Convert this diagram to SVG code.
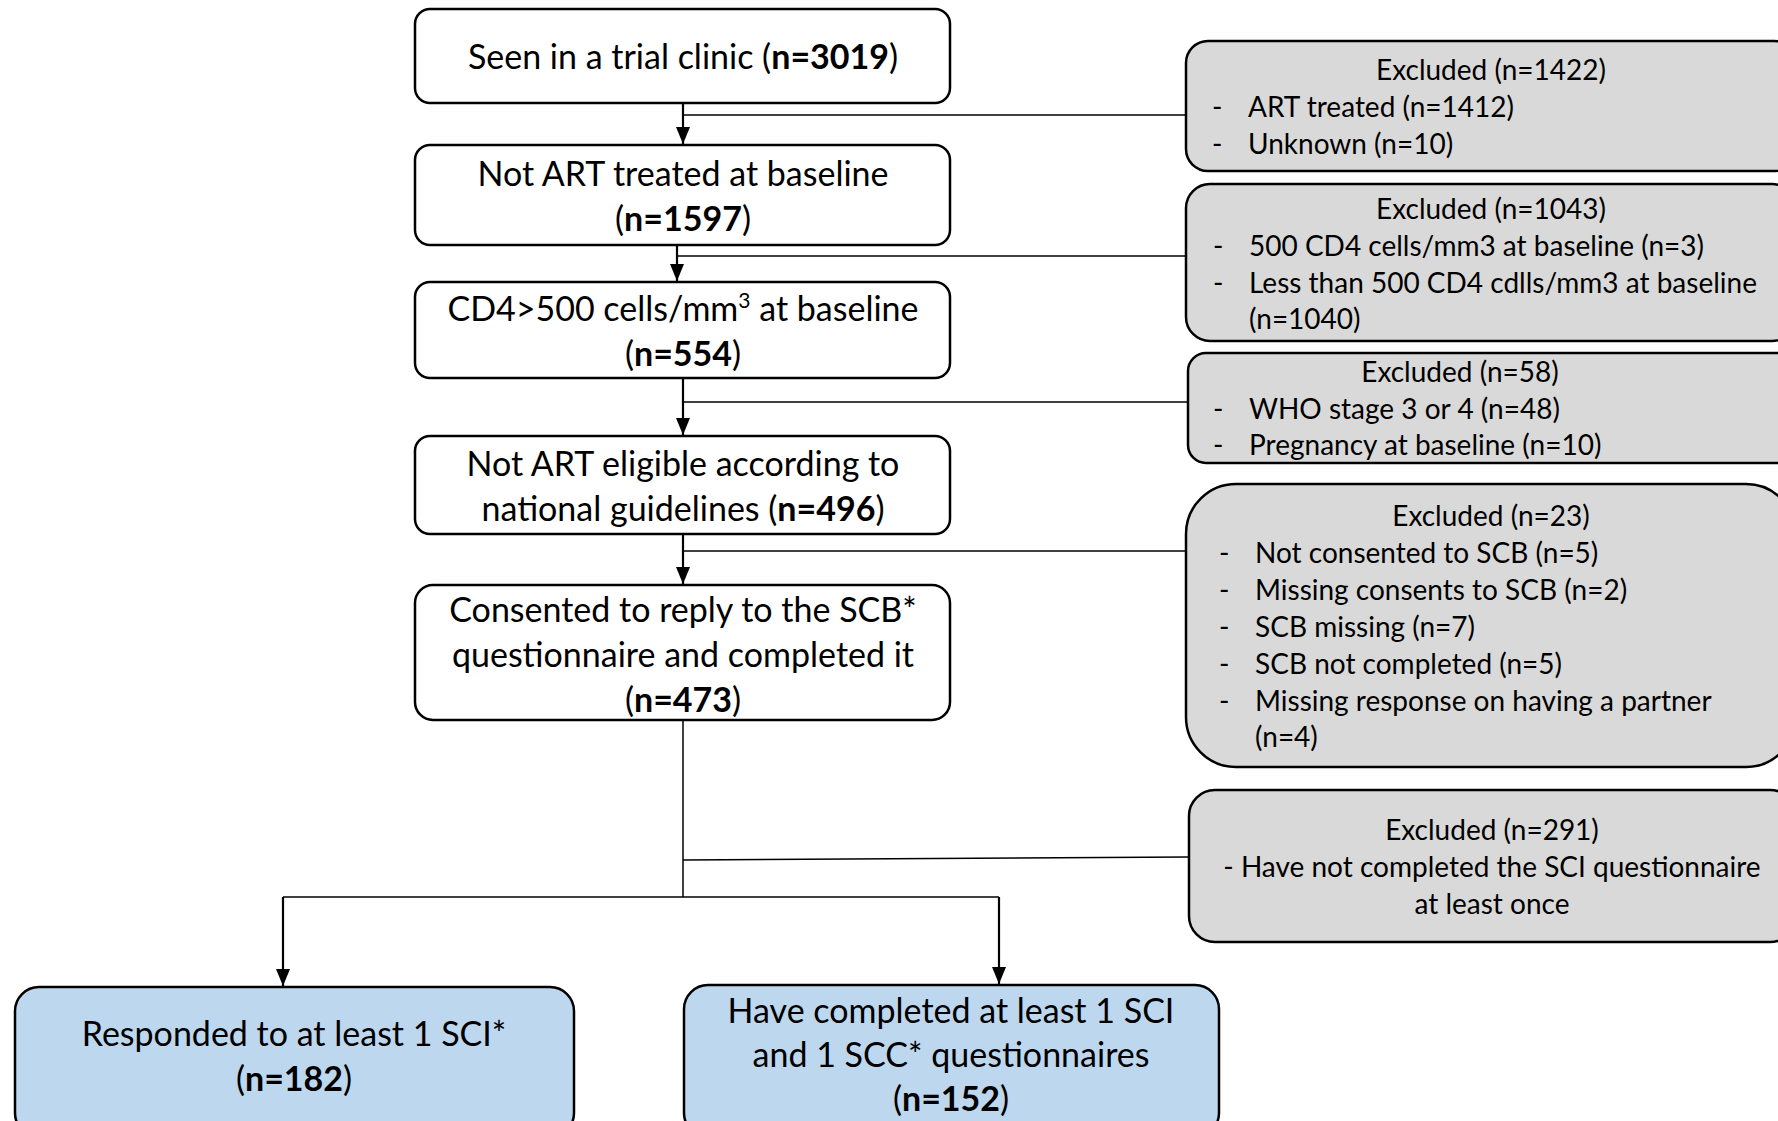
<svg xmlns="http://www.w3.org/2000/svg" width="1778" height="1121" viewBox="0 0 1778 1121">
<defs>
<style>
.box{fill:#fff;stroke:#000;stroke-width:2.5}
.gray{fill:#d9d9d9;stroke:#000;stroke-width:2.5}
.blue{fill:#bdd7ee;stroke:#000;stroke-width:2.5}
.t{font-family:Lato,"Liberation Sans",sans-serif;font-size:34px;fill:#000;text-anchor:middle}
.e{font-family:Lato,"Liberation Sans",sans-serif;font-size:28px;fill:#000}
.c{text-anchor:middle}
.b{font-weight:bold}
.ln{stroke:#000;stroke-width:1.5;fill:none}
.ar{stroke:#000;stroke-width:2.2;fill:none;marker-end:url(#dn)}
</style>
<marker id="dn" markerWidth="14" markerHeight="17" refX="7" refY="17" orient="0" markerUnits="userSpaceOnUse" viewBox="0 0 14 17">
<path d="M0,0 L14,0 L7,17 Z" fill="#000"/>
</marker>
</defs>

<g id="connectors">
<line class="ar" x1="683" y1="103" x2="683" y2="144"/>
<line class="ln" x1="683" y1="115" x2="1186" y2="115"/>
<line class="ar" x1="677" y1="245" x2="677" y2="281"/>
<line class="ln" x1="677" y1="256" x2="1186" y2="256"/>
<line class="ar" x1="683" y1="378" x2="683" y2="435"/>
<line class="ln" x1="683" y1="402" x2="1188" y2="402"/>
<line class="ar" x1="683" y1="534" x2="683" y2="584"/>
<line class="ln" x1="683" y1="551" x2="1186" y2="551"/>
<line class="ln" x1="683" y1="720" x2="683" y2="897"/>
<line class="ln" x1="683" y1="860" x2="1188" y2="857"/>
<line class="ln" x1="283" y1="897" x2="999" y2="897"/>
<line class="ar" x1="283" y1="897" x2="283" y2="986"/>
<line class="ar" x1="999" y1="897" x2="999" y2="984"/>
</g>

<g id="n1">
<rect class="box" x="415" y="9" width="535" height="94" rx="15"/>
<text class="t" x="683" y="69">Seen in a trial clinic (<tspan class="b">n=3019</tspan>)</text>
</g>
<g id="n2">
<rect class="box" x="415" y="145" width="535" height="100" rx="15"/>
<text class="t" x="683" y="186">Not ART treated at baseline</text>
<text class="t" x="683" y="231">(<tspan class="b">n=1597</tspan>)</text>
</g>
<g id="n3">
<rect class="box" x="415" y="282" width="535" height="96" rx="15"/>
<text class="t" x="683" y="321">CD4&gt;500 cells/mm<tspan font-size="21" dy="-13">3</tspan><tspan dy="13"> at baseline</tspan></text>
<text class="t" x="683" y="366">(<tspan class="b">n=554</tspan>)</text>
</g>
<g id="n4">
<rect class="box" x="415" y="436" width="535" height="98" rx="15"/>
<text class="t" x="683" y="476">Not ART eligible according to</text>
<text class="t" x="683" y="521">national guidelines (<tspan class="b">n=496</tspan>)</text>
</g>
<g id="n5">
<rect class="box" x="415" y="585" width="535" height="135" rx="18"/>
<text class="t" x="683" y="622">Consented to reply to the SCB*</text>
<text class="t" x="683" y="667">questionnaire and completed it</text>
<text class="t" x="683" y="712">(<tspan class="b">n=473</tspan>)</text>
</g>

<g id="e1">
<rect class="gray" x="1186" y="41" width="610" height="130" rx="22"/>
<text class="e c" x="1491" y="80">Excluded (n=1422)</text>
<text class="e" x="1212" y="117">-</text><text class="e" x="1248" y="117">ART treated (n=1412)</text>
<text class="e" x="1212" y="154">-</text><text class="e" x="1248" y="154">Unknown (n=10)</text>
</g>
<g id="e2">
<rect class="gray" x="1186" y="184" width="610" height="157" rx="24"/>
<text class="e c" x="1491" y="219">Excluded (n=1043)</text>
<text class="e" x="1213" y="256">-</text><text class="e" x="1249" y="256">500 CD4 cells/mm3 at baseline (n=3)</text>
<text class="e" x="1213" y="293">-</text><text class="e" x="1249" y="293">Less than 500 CD4 cdlls/mm3 at baseline</text>
<text class="e" x="1249" y="329">(n=1040)</text>
</g>
<g id="e3">
<rect class="gray" x="1188" y="353" width="608" height="110" rx="18"/>
<text class="e c" x="1460" y="382">Excluded (n=58)</text>
<text class="e" x="1213" y="419">-</text><text class="e" x="1249" y="419">WHO stage 3 or 4 (n=48)</text>
<text class="e" x="1213" y="455">-</text><text class="e" x="1249" y="455">Pregnancy at baseline (n=10)</text>
</g>
<g id="e4">
<rect class="gray" x="1186" y="484" width="610" height="283" rx="50"/>
<text class="e c" x="1491" y="526">Excluded (n=23)</text>
<text class="e" x="1219" y="563">-</text><text class="e" x="1255" y="563">Not consented to SCB (n=5)</text>
<text class="e" x="1219" y="600">-</text><text class="e" x="1255" y="600">Missing consents to SCB (n=2)</text>
<text class="e" x="1219" y="637">-</text><text class="e" x="1255" y="637">SCB missing (n=7)</text>
<text class="e" x="1219" y="674">-</text><text class="e" x="1255" y="674">SCB not completed (n=5)</text>
<text class="e" x="1219" y="711">-</text><text class="e" x="1255" y="711">Missing response on having a partner</text>
<text class="e" x="1255" y="747">(n=4)</text>
</g>
<g id="e5">
<rect class="gray" x="1189" y="790" width="607" height="152" rx="26"/>
<text class="e c" x="1492" y="840">Excluded (n=291)</text>
<text class="e c" x="1492" y="877">- Have not completed the SCI questionnaire</text>
<text class="e c" x="1492" y="914">at least once</text>
</g>

<g id="b1">
<rect class="blue" x="15" y="987" width="559" height="150" rx="24"/>
<text class="t" x="294" y="1046">Responded to at least 1 SCI*</text>
<text class="t" x="294" y="1091">(<tspan class="b">n=182</tspan>)</text>
</g>
<g id="b2">
<rect class="blue" x="684" y="985" width="535" height="152" rx="24"/>
<text class="t" x="951" y="1023">Have completed at least 1 SCI</text>
<text class="t" x="951" y="1067">and 1 SCC* questionnaires</text>
<text class="t" x="951" y="1111">(<tspan class="b">n=152</tspan>)</text>
</g>
</svg>
